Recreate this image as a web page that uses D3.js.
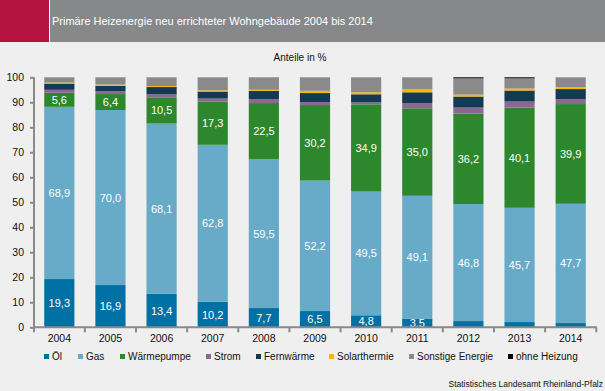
<!DOCTYPE html>
<html><head><meta charset="utf-8">
<script src="https://cdn.jsdelivr.net/npm/d3@7"></script>
<style>
html,body{margin:0;padding:0;background:#eeefee;}
svg{display:block;font-family:"Liberation Sans",Arial,sans-serif;}
</style></head>
<body><svg id="c" width="605" height="391"></svg>
<script>
const years = ["2004","2005","2006","2007","2008","2009","2010","2011","2012","2013","2014"];
const seriesNames = ["Öl","Gas","Wärmepumpe","Strom","Fernwärme","Solarthermie","Sonstige Energie","ohne Heizung"];
const colors = ["#0071a4","#67abc9","#2d882d","#8c6791","#133a52","#f7b900","#8a8a8a","#000000"];
const oel         = [19.3,16.9,13.4,10.2,7.7,6.5,4.8,3.5,2.5,2.1,1.7];
const gas         = [68.9,70.0,68.1,62.8,59.5,52.2,49.5,49.1,46.8,45.7,47.7];
const waermepumpe = [5.6,6.4,10.5,17.3,22.5,30.2,34.9,35.0,36.2,40.1,39.9];
const strom       = [1.2,1.2,1.2,1.2,1.6,1.2,0.8,2.0,2.4,2.4,2.0];
const fernwaerme  = [2.5,2.1,2.9,2.8,3.3,3.6,3.2,4.4,4.4,4.4,4.0];
const solar       = [0.4,0.5,0.4,0.5,0.4,0.9,0.8,1.2,0.8,0.8,0.8];
const sonstige    = [2.1,2.9,3.5,5.2,5.0,5.4,6.0,4.8,6.5,4.1,3.9];
const ohne        = [0,0,0,0,0,0,0,0,0.4,0.4,0];
const labeled = [true,true,true,false,false,false,false,false];
const labelMin = 3;
const yTicks = [0,10,20,30,40,50,60,70,80,90,100];

const allSeries = [oel,gas,waermepumpe,strom,fernwaerme,solar,sonstige,ohne];
const rows = years.map((y,i)=>{const r={year:y}; seriesNames.forEach((s,k)=>r[s]=allSeries[k][i]); return r;});
const stacked = d3.stack().keys(seriesNames)(rows);

const svg = d3.select("#c");
// header
svg.append("rect").attr("x",0).attr("y",0).attr("width",605).attr("height",42).attr("fill","#87888a");
svg.append("rect").attr("x",0).attr("y",0).attr("width",49).attr("height",42).attr("fill","#b5133f");
svg.append("rect").attr("x",49).attr("y",0).attr("width",1).attr("height",42).attr("fill","#ffffff");
svg.append("text").attr("x",52).attr("y",25).attr("fill","#fff").attr("font-size",11)
  .text("Primäre Heizenergie neu errichteter Wohngebäude 2004 bis 2014");
svg.append("text").attr("x",300).attr("y",61).attr("text-anchor","middle").attr("font-size",10).attr("fill","#111")
  .text("Anteile in %");

const x = d3.scaleBand().domain(years).range([34,596]).paddingInner(0.41).paddingOuter(0.2);
const y = d3.scaleLinear().domain([0,100]).range([327.3,77.3]);

const g = svg.append("g");
stacked.forEach((layer,k)=>{
  g.selectAll(null).data(layer).enter().append("rect")
    .attr("x",d=>x(d.data.year)).attr("width",x.bandwidth())
    .attr("y",d=>y(d[1])).attr("height",d=>Math.max(0,y(d[0])-y(d[1])))
    .attr("fill",colors[k]);
  if(labeled[k]){
    g.selectAll(null).data(layer.filter(d=>d[1]-d[0]>=labelMin)).enter().append("text")
      .attr("x",d=>x(d.data.year)+x.bandwidth()/2)
      .attr("y",d=>(y(d[0])+y(d[1]))/2+4)
      .attr("text-anchor","middle").attr("fill","#fff").attr("font-size",11)
      .text(d=>d3.format(".1f")(d[1]-d[0]).replace(".",","));
  }
});

// y axis
const yAx = svg.append("g").attr("transform","translate(34,0)")
  .call(d3.axisLeft(y).tickValues(yTicks).tickSize(4).tickPadding(6));
yAx.select(".domain").attr("stroke","#8a8a8a").attr("stroke-width",2).attr("d","M0,"+y(100)+"V"+(y(0)+1));
yAx.selectAll(".tick line").attr("stroke","#8a8a8a").attr("stroke-width",2);
yAx.selectAll(".tick text").attr("font-size",10.5).attr("fill","#111").attr("font-family","Liberation Sans, Arial, sans-serif");

// x axis with ticks at band boundaries
const xg = svg.append("g").attr("transform","translate(0,"+y(0)+")");
xg.append("line").attr("x1",33).attr("x2",597).attr("y1",0).attr("y2",0).attr("stroke","#8a8a8a").attr("stroke-width",2);
const bounds = [34].concat(years.map(d=>x(d)+x.bandwidth()+(x.step()-x.bandwidth())/2));
xg.selectAll(null).data(bounds).enter().append("line")
  .attr("x1",d=>d).attr("x2",d=>d).attr("y1",0).attr("y2",5).attr("stroke","#8a8a8a").attr("stroke-width",2);
xg.selectAll(null).data(years).enter().append("text")
  .attr("x",d=>x(d)+x.bandwidth()/2).attr("y",15).attr("text-anchor","middle")
  .attr("font-size",10.5).attr("fill","#111").text(d=>d);

// legend
const legX = [44,78,120,206,256,329,409,508];
const lg = svg.append("g");
seriesNames.forEach((s,k)=>{
  lg.append("rect").attr("x",legX[k]).attr("y",354).attr("width",5).attr("height",5).attr("fill",colors[k]);
  lg.append("text").attr("x",legX[k]+8).attr("y",359.5).attr("font-size",10).attr("fill","#111").text(s);
});

svg.append("text").attr("x",603).attr("y",387).attr("text-anchor","end").attr("font-size",8.5).attr("fill","#111")
  .text("Statistisches Landesamt Rheinland-Pfalz");
</script></body></html>
